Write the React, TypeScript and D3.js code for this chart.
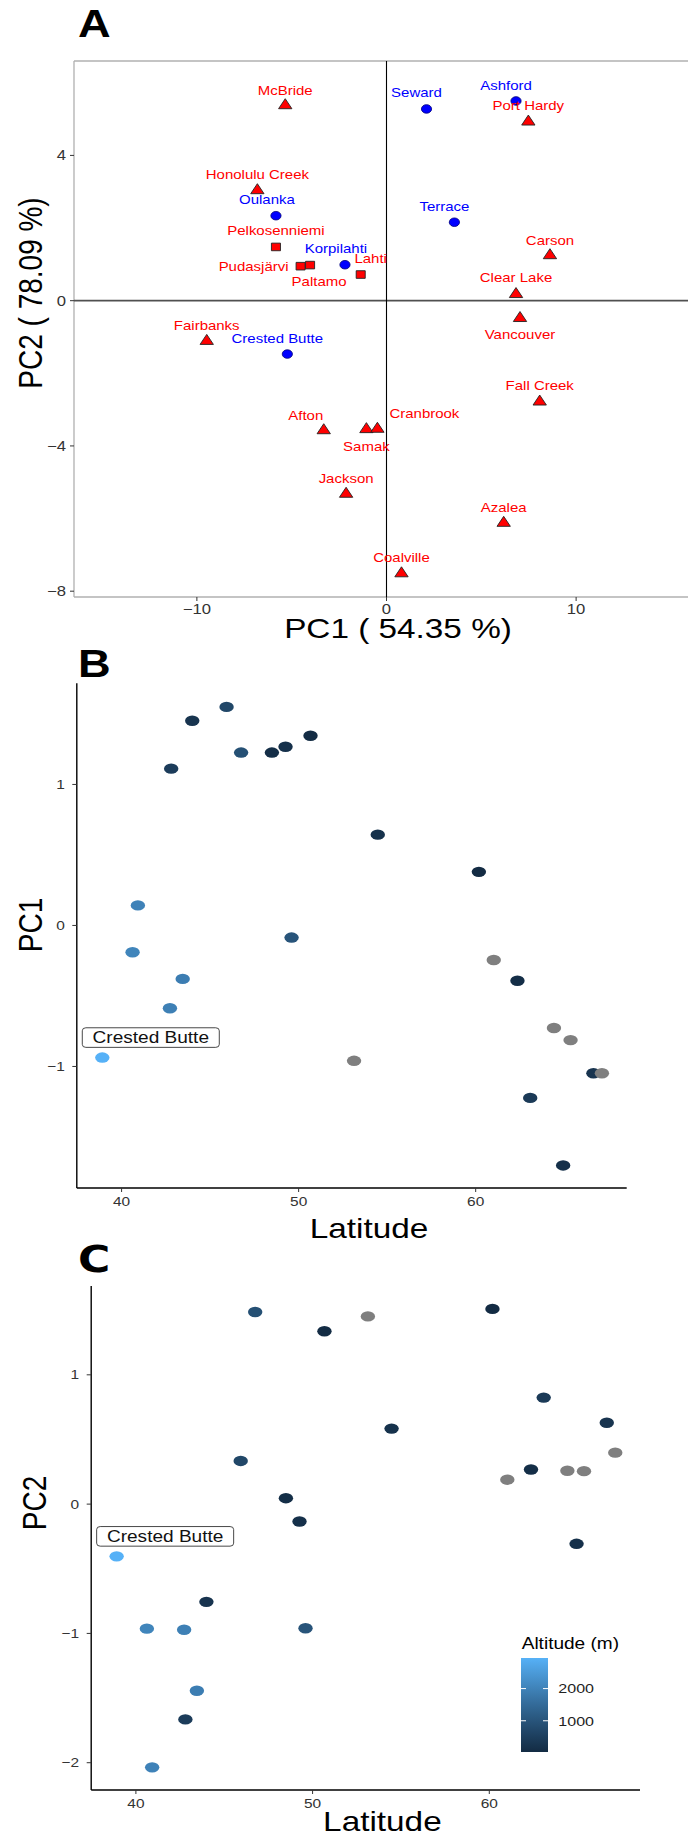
import React from 'react';
import * as d3 from 'd3';

// ---------- Panel A data (PCA scores) ----------
const siteNames = ['McBride', 'Seward', 'Ashford', 'Port Hardy', 'Honolulu Creek', 'Oulanka', 'Terrace', 'Pelkosenniemi', 'Pudasjärvi', 'Paltamo', 'Korpilahti', 'Lahti', 'Carson', 'Clear Lake', 'Vancouver', 'Fairbanks', 'Crested Butte', 'Fall Creek', 'Afton', 'Samak', 'Cranbrook', 'Jackson', 'Azalea', 'Coalville'];
const pcaPC1 = [-5.34, 2.11, 6.83, 7.48, -6.81, -5.83, 3.58, -5.83, -4.53, -4.03, -2.19, -1.36, 8.62, 6.83, 7.04, -9.48, -5.23, 8.08, -3.31, -1.06, -0.48, -2.13, 6.18, 0.79];
const pcaPC2 = [5.41, 5.28, 5.50, 4.96, 3.07, 2.34, 2.16, 1.48, 0.95, 0.98, 0.99, 0.72, 1.28, 0.21, -0.45, -1.08, -1.47, -2.75, -3.54, -3.51, -3.50, -5.29, -6.09, -7.48];
const siteGroup = ['tri', 'circ', 'circ', 'tri', 'tri', 'circ', 'circ', 'sq', 'sq', 'sq', 'circ', 'sq', 'tri', 'tri', 'tri', 'tri', 'circ', 'tri', 'tri', 'tri', 'tri', 'tri', 'tri', 'tri'];
// label offsets relative to the marker (px)
const labelNudge: [number, number][] = [[0, -14], [-10, -16], [-10, -15], [0, -15], [0, -15], [-9, -16], [-10, -16], [0, -16], [-47, 0], [9, 17], [-9, -16], [10, -16], [0, -14], [0, -15], [0, 18], [0, -14], [-10, -15], [0, -15], [-18, -14], [0, 18], [47, -14], [0, -14], [0, -14], [0, -15]];

// ---------- Panels B & C data ----------
const latitude = [38.91, 40.62, 40.92, 42.73, 42.80, 43.45, 43.99, 45.93, 46.75, 48.49, 49.26, 49.60, 50.67, 53.13, 54.47, 60.18, 61.02, 62.36, 63.08, 64.42, 64.94, 65.36, 66.65, 67.13];
const pc1Scaled = [-0.937, -0.19, 0.142, -0.587, 1.112, -0.379, 1.452, 1.55, 1.226, 1.226, 1.267, -0.086, 1.345, -0.96, 0.644, 0.380, -0.245, -0.392, -1.223, -0.727, -1.702, -0.813, -1.048, -1.048];
const pc2Scaled = [-0.404, -0.963, -2.036, -0.972, -1.665, -1.443, -0.756, 0.334, 1.486, 0.046, -0.134, -0.96, 1.337, 1.452, 0.584, 1.510, 0.189, 0.268, 0.824, 0.258, -0.307, 0.255, 0.629, 0.398];
const altitude: (number | null)[] = [2950, 2050, 2000, 1950, 450, 1900, 250, 700, 900, 100, 150, 1000, 50, null, 200, 30, null, 100, 400, null, 150, null, 250, null];
const highlightIndex = 0;
const highlightName = 'Crested Butte';

const ticksAX = [-10, 0, 10];
const ticksAY = [-8, -4, 0, 4];
const ticksLat = [40, 50, 60];
const ticksPC1 = [-1, 0, 1];
const ticksPC2 = [-2, -1, 0, 1];
const legendTicks = [1000, 2000];

// ---------- layout ----------
const S = 1.19; // horizontal stretch of the original figure
const W = 688, H = 1836;
const ux = (v: number) => v / S;
const FONT = '"Liberation Sans", Arial, Helvetica, sans-serif';
const fmt = (v: number) => (v < 0 ? '\u2212' + Math.abs(v) : String(v));

const RED = '#ff0000';
const BLUE = '#0000ff';

export default function App() {
  const xA = d3.scaleLinear().domain([-16.48, 16.48]).range([ux(74), ux(699)]);
  const yA = d3.scaleLinear().domain([-8.16, 6.6]).range([597, 61]);
  const xB = d3.scaleLinear().domain([37.47, 68.53]).range([ux(76.8), ux(626.7)]);
  const yB = d3.scaleLinear().domain([-1.862, 1.718]).range([1188, 683.2]);
  const xC = d3.scaleLinear().domain([37.47, 68.53]).range([ux(91.2), ux(640)]);
  const yC = d3.scaleLinear().domain([-2.211, 1.687]).range([1790, 1286]);

  const alts = altitude.filter((a) => a != null) as number[];
  const altExt = [d3.min(alts)!, d3.max(alts)!];
  const color = d3.scaleLinear<string>().domain(altExt).range(['#132B43', '#56B1F7']).interpolate(d3.interpolateLab);
  const colOf = (a: number | null) => (a == null ? '#7f7f7f' : color(a));
  const legY = d3.scaleLinear().domain(altExt).range([1752, 1658]);
  const gradStops = d3.range(0, 1.0001, 0.1);

  const nss = { vectorEffect: 'non-scaling-stroke' } as any;

  const marker = (g: string, cx: number, cy: number, i: number) => {
    if (g === 'tri') {
      return <polygon key={i} points={`${cx},${cy - 5.5} ${cx + 5.6},${cy + 4.5} ${cx - 5.6},${cy + 4.5}`} fill={RED} stroke="#222" strokeWidth={0.9} style={nss} />;
    }
    if (g === 'sq') {
      return <rect key={i} x={cx - 3.8} y={cy - 3.8} width={7.6} height={7.6} fill={RED} stroke="#222" strokeWidth={0.9} style={nss} />;
    }
    return <circle key={i} cx={cx} cy={cy} r={4.3} fill={BLUE} stroke="#00007a" strokeWidth={0.8} style={nss} />;
  };

  const scatter = (xs: d3.ScaleLinear<number, number>, ys: d3.ScaleLinear<number, number>, vals: number[]) =>
    latitude.map((lat, i) => (
      <ellipse key={i} cx={xs(lat)} cy={ys(vals[i])} rx={ux(7.2)} ry={5.2} fill={colOf(altitude[i])} />
    ));

  const highlightLabel = (xs: d3.ScaleLinear<number, number>, ys: d3.ScaleLinear<number, number>, vals: number[]) => {
    const px = xs(latitude[highlightIndex]);
    const py = ys(vals[highlightIndex]);
    const left = px - ux(20);
    const cy = py - 20;
    return (
      <g>
        <rect x={left} y={cy - 9.8} width={ux(137)} height={19.6} rx={3} fill="#fff" stroke="#333" strokeWidth={0.9} style={nss} />
        <text x={left + ux(137) / 2} y={cy + 5.6} textAnchor="middle" fontSize={16} fill="#111">{highlightName}</text>
      </g>
    );
  };

  const classicAxes = (
    xs: d3.ScaleLinear<number, number>,
    ys: d3.ScaleLinear<number, number>,
    yTicks: number[],
  ) => {
    const [x0, x1] = xs.range();
    const [y0, y1] = ys.range();
    return (
      <g>
        <line x1={x0} x2={x1} y1={y0} y2={y0} stroke="#000" strokeWidth={1.4} style={nss} />
        <line x1={x0} x2={x0} y1={y0} y2={y1} stroke="#000" strokeWidth={1.4} style={nss} />
        {ticksLat.map((t) => (
          <g key={'x' + t}>
            <line x1={xs(t)} x2={xs(t)} y1={y0} y2={y0 + 4} stroke="#333" strokeWidth={1} style={nss} />
            <text x={xs(t)} y={y0 + 18.5} textAnchor="middle" fontSize={13} fill="#333">{fmt(t)}</text>
          </g>
        ))}
        {yTicks.map((t) => (
          <g key={'y' + t}>
            <line x1={x0 - ux(4.5)} x2={x0} y1={ys(t)} y2={ys(t)} stroke="#333" strokeWidth={1} style={nss} />
            <text x={x0 - ux(12)} y={ys(t) + 4.6} textAnchor="end" fontSize={13} fill="#333">{fmt(t)}</text>
          </g>
        ))}
      </g>
    );
  };

  const [ax0, ax1] = xA.range();
  const [ay0, ay1] = yA.range();

  return (
    <svg
      width={W}
      height={H}
      viewBox={`0 0 ${ux(W)} ${H}`}
      preserveAspectRatio="none"
      style={{ position: 'absolute', left: 0, top: 0, display: 'block', background: '#fff' }}
      fontFamily={FONT}
    >
      <defs>
        <linearGradient id="altGrad" x1="0" y1="1" x2="0" y2="0">
          {gradStops.map((f) => (
            <stop key={f} offset={f} stopColor={color(altExt[0] + f * (altExt[1] - altExt[0]))} />
          ))}
        </linearGradient>
      </defs>
      <rect x={0} y={0} width={ux(W)} height={H} fill="#fff" />

      {/* ---------------- Panel A ---------------- */}
      <text x={ux(78)} y={36.7} fontSize={38} fontWeight="bold" fill="#000">A</text>
      <line x1={ax0} x2={ax1} y1={ay1} y2={ay1} stroke="#b0b0b0" strokeWidth={1.3} style={nss} />
      <line x1={ax0} x2={ax1} y1={ay0} y2={ay0} stroke="#b0b0b0" strokeWidth={1.3} style={nss} />
      <line x1={ax0} x2={ax0} y1={ay0} y2={ay1} stroke="#b0b0b0" strokeWidth={1.3} style={nss} />
      <line x1={ax0} x2={ax1} y1={yA(0)} y2={yA(0)} stroke="#505050" strokeWidth={1.8} style={nss} />
      <line x1={xA(0)} x2={xA(0)} y1={ay0} y2={ay1} stroke="#000" strokeWidth={1.1} style={nss} />
      {ticksAY.map((t) => (
        <g key={'ay' + t}>
          <line x1={ax0 - ux(4)} x2={ax0} y1={yA(t)} y2={yA(t)} stroke="#333" strokeWidth={1} style={nss} />
          <text x={ux(66)} y={yA(t) + 5} textAnchor="end" fontSize={14} fill="#333">{fmt(t)}</text>
        </g>
      ))}
      {ticksAX.map((t) => (
        <g key={'ax' + t}>
          <line x1={xA(t)} x2={xA(t)} y1={ay0} y2={ay0 + 4} stroke="#333" strokeWidth={1} style={nss} />
          <text x={xA(t)} y={614} textAnchor="middle" fontSize={14} fill="#333">{fmt(t)}</text>
        </g>
      ))}
      {siteNames.map((n, i) => marker(siteGroup[i], xA(pcaPC1[i]), yA(pcaPC2[i]), i))}
      {siteNames.map((n, i) => (
        <text
          key={'lab' + i}
          x={xA(pcaPC1[i]) + ux(labelNudge[i][0])}
          y={yA(pcaPC2[i]) + labelNudge[i][1] + 4.4}
          textAnchor="middle"
          fontSize={12.6}
          fill={siteGroup[i] === 'circ' ? BLUE : RED}
        >
          {n}
        </text>
      ))}
      <text x={ux(398)} y={638} fontSize={28} fill="#000" textAnchor="middle">PC1 ( 54.35 %)</text>
      <text transform={`translate(${ux(41.7)},293) rotate(-90)`} fontSize={28} fill="#000" textAnchor="middle">PC2 ( 78.09 %)</text>

      {/* ---------------- Panel B ---------------- */}
      <text x={ux(78)} y={677} fontSize={38} fontWeight="bold" fill="#000">B</text>
      {classicAxes(xB, yB, ticksPC1)}
      {scatter(xB, yB, pc1Scaled)}
      {highlightLabel(xB, yB, pc1Scaled)}
      <text x={ux(369)} y={1238} fontSize={28} fill="#000" textAnchor="middle">Latitude</text>
      <text transform={`translate(${ux(41.7)},925) rotate(-90)`} fontSize={28} fill="#000" textAnchor="middle">PC1</text>

      {/* ---------------- Panel C ---------------- */}
      <text x={ux(78)} y={1272} fontSize={37} fontWeight="bold" fill="#000" fontFamily='"DejaVu Sans", sans-serif'>C</text>
      {classicAxes(xC, yC, ticksPC2)}
      {scatter(xC, yC, pc2Scaled)}
      {highlightLabel(xC, yC, pc2Scaled)}
      <text x={ux(382.4)} y={1831} fontSize={28} fill="#000" textAnchor="middle">Latitude</text>
      <text transform={`translate(${ux(46)},1503) rotate(-90)`} fontSize={28} fill="#000" textAnchor="middle">PC2</text>

      {/* legend */}
      <text x={ux(521.7)} y={1649.3} fontSize={16} fill="#000">Altitude (m)</text>
      <rect x={ux(521)} y={legY(altExt[1])} width={ux(27)} height={legY(altExt[0]) - legY(altExt[1])} fill="url(#altGrad)" />
      {legendTicks.map((t) => (
        <g key={'lg' + t}>
          <line x1={ux(521)} x2={ux(526)} y1={legY(t)} y2={legY(t)} stroke="#fff" strokeWidth={1} style={nss} />
          <line x1={ux(543)} x2={ux(548)} y1={legY(t)} y2={legY(t)} stroke="#fff" strokeWidth={1} style={nss} />
          <text x={ux(558.3)} y={legY(t) + 4.8} fontSize={13.5} fill="#222">{t}</text>
        </g>
      ))}
    </svg>
  );
}
